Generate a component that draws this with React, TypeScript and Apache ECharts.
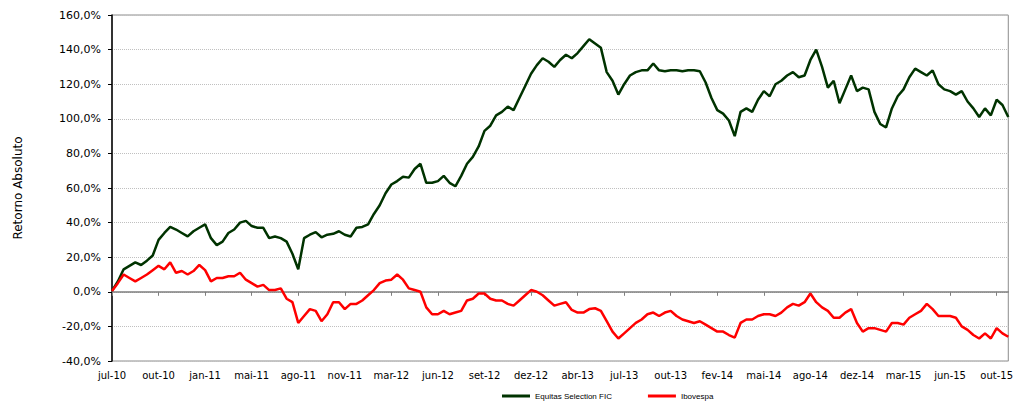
import React, { useEffect, useRef } from "react";
import * as echarts from "echarts";

const tickLabels = ["jul-10","out-10","jan-11","mai-11","ago-11","nov-11","mar-12","jun-12","set-12","dez-12","abr-13","jul-13","out-13","fev-14","mai-14","ago-14","dez-14","mar-15","jun-15","out-15"];
const pointsPerTick = 8;

const equitas = [
  0.5, 6, 13, 15, 17, 15.5, 18, 21, 30, 34,
  37.5, 36, 34, 32, 35, 37, 39, 31, 27, 29,
  34, 36, 40, 41, 38, 37, 37, 31, 32, 31,
  29, 22, 13, 31, 33, 34.5, 31.5, 33, 33.5, 35,
  33, 32, 37, 37.5, 39, 45, 50, 57, 62, 64,
  66.5, 66, 71, 74, 63, 63, 64, 67, 63, 61,
  67, 74, 78, 84, 93, 96, 102, 104, 107, 105,
  112, 119, 126, 131, 135, 133, 130, 134, 137, 135,
  138, 142, 146, 143.5, 141, 127, 122, 114, 120, 125,
  127, 128, 128, 132, 128, 127.5, 128, 128, 127.5, 128,
  128, 127.5, 121, 112, 105, 103, 99, 90, 104, 106,
  104, 111, 116, 113, 120, 122, 125, 127, 124, 125,
  134, 140, 130, 118, 122, 109, 117, 125, 116, 118,
  117, 104, 97, 95, 106, 113, 117, 124, 129, 127,
  125, 128, 120, 117, 116, 114, 116, 110, 106, 101,
  106, 102, 111, 108, 101
];

const ibovespa = [
  0.5, 5, 10, 8, 6, 8, 10, 12.5, 15, 13,
  17, 11, 12, 10, 12, 15.5, 12.5, 6, 8, 8,
  9, 9, 11, 7, 5, 3, 4, 1, 1, 2,
  -4, -6, -18, -14, -10, -11, -17, -13, -6, -6,
  -10, -7, -7, -5, -2, 1, 5, 6.5, 7, 10,
  7, 2, 1, 0, -9, -13, -13, -11, -13, -12,
  -11, -5, -4, -1, -1, -4, -5, -5, -7, -8,
  -5, -2, 1, 0, -2, -5, -8, -7, -6, -10.5,
  -12, -12, -10, -9.5, -11, -17, -23, -27, -24, -21,
  -18, -16, -13, -12, -14, -12, -11, -14, -16, -17,
  -18, -17, -19, -21, -23, -23, -25, -26.5, -18, -16,
  -16, -14, -13, -13, -14, -12, -9, -7, -8, -6,
  -1, -6, -9, -11, -15, -15, -12, -10, -18, -23,
  -21, -21, -22, -23, -18, -18, -19, -15, -13, -11,
  -7, -10, -14, -14, -14, -15, -20, -22, -25, -27,
  -24, -27, -21, -24, -26
];

const seriesNames = ["Equitas Selection FIC", "Ibovespa"];

export default function App() {
  const ref = useRef<HTMLDivElement>(null);
  useEffect(() => {
    if (!ref.current) return;
    const chart = echarts.init(ref.current, null, { renderer: "svg" });
    const toPairs = (arr: number[]) => arr.map((v, i) => [i, v]);
    chart.setOption({
      animation: false,
      backgroundColor: "#ffffff",
      grid: {
        left: 112,
        right: 3,
        top: 15,
        bottom: 42,
        show: true,
        borderColor: "#8c8c8c",
        borderWidth: 1,
      },
      legend: {
        left: 502,
        top: 391,
        padding: 0,
        itemWidth: 28,
        itemHeight: 3,
        itemGap: 36,
        icon: "rect",
        textStyle: { fontFamily: "Liberation Sans", fontSize: 8, color: "#000", lineHeight: 10 },
        data: seriesNames,
      },
      xAxis: {
        type: "value",
        min: 0,
        max: equitas.length - 1,
        interval: pointsPerTick,
        axisLine: { onZero: true, lineStyle: { color: "#7f7f7f", width: 1.5 } },
        axisTick: { show: true, length: 4, lineStyle: { color: "#7f7f7f" } },
        axisLabel: {
          margin: 9,
          fontFamily: "DejaVu Sans",
          fontSize: 10,
          color: "#000",
          showMaxLabel: false,
          formatter: (v: number) =>
            v % pointsPerTick === 0 ? tickLabels[v / pointsPerTick] ?? "" : "",
        },
        splitLine: { show: false },
      },
      yAxis: {
        type: "value",
        min: -40,
        max: 160,
        interval: 20,
        name: "Retorno Absoluto",
        nameLocation: "middle",
        nameRotate: 90,
        nameGap: 88,
        nameTextStyle: { fontFamily: "DejaVu Sans", fontSize: 12, color: "#000" },
        axisLine: { show: true, onZero: false, lineStyle: { color: "#000", width: 1.5 } },
        axisTick: { show: true, length: 4, lineStyle: { color: "#000" } },
        axisLabel: {
          margin: 11,
          fontFamily: "DejaVu Sans",
          fontSize: 11,
          color: "#000",
          formatter: (v: number) => v.toFixed(1).replace(".", ",") + "%",
        },
        splitLine: { show: true, lineStyle: { color: "#c0c0c0", type: "dotted", width: 1 } },
      },
      series: [
        {
          name: seriesNames[0],
          type: "line",
          data: toPairs(equitas),
          showSymbol: false,
          symbol: "none",
          lineStyle: { color: "#003300", width: 2.5 },
          itemStyle: { color: "#003300" },
        },
        {
          name: seriesNames[1],
          type: "line",
          data: toPairs(ibovespa),
          showSymbol: false,
          symbol: "none",
          lineStyle: { color: "#ff0000", width: 2.5 },
          itemStyle: { color: "#ff0000" },
        },
      ],
    });
    return () => chart.dispose();
  }, []);
  return (
    <div
      ref={ref}
      style={{ position: "fixed", left: 0, top: 0, width: 1016, height: 403 }}
    />
  );
}
